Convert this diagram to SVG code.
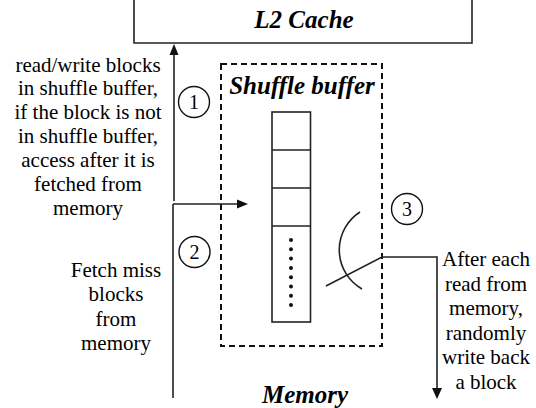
<svg xmlns="http://www.w3.org/2000/svg" width="536" height="408" viewBox="0 0 536 408">
<style>
.t{font-family:"Liberation Serif","Times New Roman",serif;font-size:21px;fill:#000;text-anchor:middle}
.h{font-family:"Liberation Serif","Times New Roman",serif;font-size:25px;font-weight:bold;font-style:italic;fill:#000;text-anchor:middle}
.n{font-family:"Liberation Serif","Times New Roman",serif;font-size:20px;fill:#000;text-anchor:middle}
.ln{stroke:#222;stroke-width:1.6;fill:none}
.ah{fill:#111;stroke:none}
.c{fill:#fff;stroke:#111;stroke-width:1.4}
</style>
<rect width="536" height="408" fill="#fff"/>
<g id="l2cache">
<path class="ln" d="M134 0 V43 H472 V0"/>
<text class="h" x="304" y="28">L2 Cache</text>
</g>
<g id="shuffle-buffer">
<rect x="221" y="64" width="161" height="282" fill="none" stroke="#111" stroke-width="2" stroke-dasharray="6,4"/>
<text class="h" x="302" y="94">Shuffle buffer</text>
<g id="column">
<rect class="ln" x="272" y="112" width="38.5" height="210"/>
<path class="ln" d="M272 150 H310.5 M272 188 H310.5 M272 226 H310.5"/>
<g fill="#111">
<circle cx="291" cy="240" r="2"/><circle cx="291" cy="249.3" r="2"/><circle cx="291" cy="258.6" r="2"/><circle cx="291" cy="267.9" r="2"/><circle cx="291" cy="277.2" r="2"/><circle cx="291" cy="286.5" r="2"/><circle cx="291" cy="295.8" r="2"/><circle cx="291" cy="305.1" r="2"/>
</g>
</g>
</g>
<g id="memory">
<text class="h" x="305" y="403">Memory</text>
</g>
<g id="connectors">
<path class="ln" d="M174 201 V52"/>
<polygon class="ah" points="174,44 169.5,55 178.5,55"/>
<path class="ln" d="M173 204 H240"/>
<polygon class="ah" points="248,204 237,199.5 237,208.5"/>
<path class="ln" d="M173 204 V398"/>
<path class="ln" d="M360 212 A45 45 0 0 0 362 289"/>
<path class="ln" d="M326 286 L382 257 H437 V391"/>
<polygon class="ah" points="437,399 432,388 442,388"/>
</g>
<g id="step1">
<circle class="c" cx="194" cy="102" r="15.5"/>
<text class="n" x="194" y="109">1</text>
</g>
<g id="step2">
<circle class="c" cx="194.5" cy="252" r="15.5"/>
<text class="n" x="194.5" y="259">2</text>
</g>
<g id="step3">
<circle class="c" cx="407" cy="209" r="15.5"/>
<text class="n" x="407" y="216">3</text>
</g>
<g id="label1">
<text class="t" x="88" y="71.5">read/write blocks</text>
<text class="t" x="88" y="95.4">in shuffle buffer,</text>
<text class="t" x="88" y="119.3">if the block is not</text>
<text class="t" x="88" y="143.2">in shuffle buffer,</text>
<text class="t" x="88" y="167.1">access after it is</text>
<text class="t" x="88" y="191">fetched from</text>
<text class="t" x="88" y="215">memory</text>
</g>
<g id="label2">
<text class="t" x="116" y="277">Fetch miss</text>
<text class="t" x="116" y="301">blocks</text>
<text class="t" x="116" y="325.5">from</text>
<text class="t" x="116" y="350">memory</text>
</g>
<g id="label3">
<text class="t" x="486" y="266">After each</text>
<text class="t" x="486" y="290.5">read from</text>
<text class="t" x="486" y="315">memory,</text>
<text class="t" x="486" y="339.5">randomly</text>
<text class="t" x="486" y="364">write back</text>
<text class="t" x="486" y="388.5">a block</text>
</g>
</svg>
